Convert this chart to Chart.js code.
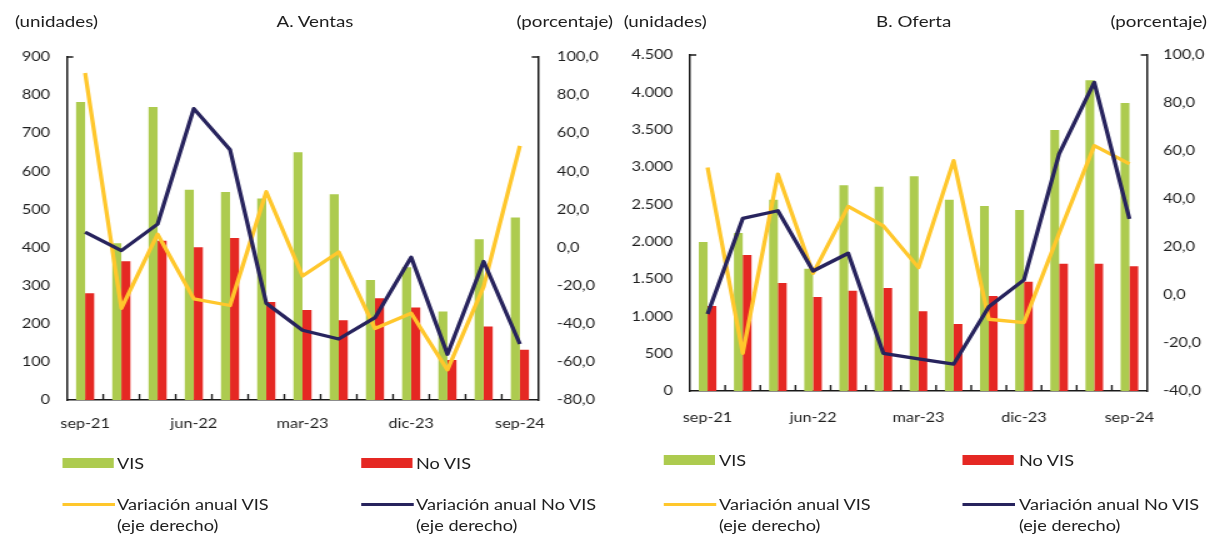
<!DOCTYPE html>
<html>
<head>
<meta charset="utf-8">
<script src="https://cdn.jsdelivr.net/npm/chart.js@4"></script>
<style>
html,body{margin:0;padding:0;background:#fff;overflow:hidden;width:1215px;height:536px;}
#stage{position:absolute;left:0;top:0;width:972px;height:536px;transform:scaleX(1.25);transform-origin:0 0;font-family:Lato,"Open Sans",sans-serif;color:#1e1e1e;}
canvas{position:absolute;top:0;}
.t{position:absolute;font-size:15px;line-height:18px;white-space:nowrap;}
.sw{position:absolute;height:10px;}
.ln{position:absolute;height:3px;}
.lg{position:absolute;font-size:14.5px;line-height:21px;white-space:nowrap;}
</style>
</head>
<body>
<div id="stage">
  <canvas id="cA" width="486" height="440" style="left:0;width:486px;height:440px"></canvas>
  <canvas id="cB" width="486" height="440" style="left:486px;width:486px;height:440px"></canvas>

  <div class="t" style="left:12px;top:12px">(unidades)</div>
  <div class="t" style="left:152px;width:200px;text-align:center;top:12px">A. Ventas</div>
  <div class="t" style="left:390.4px;width:100px;text-align:right;top:12px">(porcentaje)</div>
  <div class="t" style="left:499px;top:12px">(unidades)</div>
  <div class="t" style="left:631px;width:200px;text-align:center;top:12px">B. Oferta</div>
  <div class="t" style="left:865.6px;width:100px;text-align:right;top:12px">(porcentaje)</div>

  <div id="legA"></div>
  <div id="legB"></div>
</div>
<script>
// ---- data ----
const categories = ['sep-21','dic-21','mar-22','jun-22','sep-22','dic-22','mar-23','jun-23','sep-23','dic-23','mar-24','jun-24','sep-24'];

const ventasVIS      = [782, 411, 769, 552, 546, 529, 650, 540, 315, 348, 232, 422, 479];
const ventasNoVIS    = [280, 364, 418, 401, 425, 257, 236, 209, 267, 243, 105, 193, 132];
const ventasVarVIS   = [91.6, -31.9, 7.0, -26.9, -30.4, 29.3, -14.9, -2.3, -42.5, -34.5, -64.2, -20.5, 53.4];
const ventasVarNoVIS = [8.1, -1.6, 12.3, 72.9, 51.3, -29.2, -43.4, -48.0, -36.8, -5.1, -56.0, -7.3, -50.6];

const ofertaVIS      = [1996, 2116, 2562, 1638, 2754, 2737, 2875, 2562, 2478, 2424, 3496, 4161, 3857];
const ofertaNoVIS    = [1138, 1821, 1446, 1259, 1344, 1379, 1067, 897, 1272, 1464, 1705, 1705, 1670];
const ofertaVarVIS   = [53.1, -24.3, 50.4, 9.0, 36.9, 28.8, 11.4, 56.0, -10.1, -11.5, 25.7, 62.2, 54.6];
const ofertaVarNoVIS = [-7.9, 31.9, 35.1, 10.0, 17.4, -24.3, -26.6, -28.8, -4.9, 6.3, 58.8, 88.6, 31.7];

const shownLabels = ['sep-21','jun-22','mar-23','dic-23','sep-24'];
const legendLabels = ['VIS','No VIS','Variación anual VIS','Variación anual No VIS'];

// ---- style ----
const GREEN = '#adcb4f', RED = '#e52823', YELLOW = '#ffc72c', NAVY = '#27235d', AXIS = '#1a1a1a', TXT = '#1e1e1e';
const tickFont = {family:'Lato', size:13};

const fmtPct = v => v.toFixed(1).replace('.', ',');
const fmtThousands = v => String(v).replace(/\B(?=(\d{3})+(?!\d))/g, '.');

const innerTicks = {
  id: 'innerTicks',
  afterDraw(chart) {
    const {ctx} = chart;
    const x = chart.scales.x, yL = chart.scales.yL, yR = chart.scales.yR;
    const w = x.getPixelForValue(1) - x.getPixelForValue(0);
    ctx.save();
    ctx.strokeStyle = AXIS;
    ctx.lineWidth = 1.4;
    ctx.beginPath();
    for (let i = 1; i < categories.length; i++) {
      const px = x.getPixelForValue(i) - w / 2;
      ctx.moveTo(px, x.top);
      ctx.lineTo(px, x.top - 6);
    }
    ctx.moveTo(yL.right, yL.top); ctx.lineTo(yL.right + 5, yL.top);
    ctx.moveTo(yR.left, yR.top); ctx.lineTo(yR.left - 5, yR.top);
    ctx.stroke();
    ctx.restore();
  }
};

function makeChart(id, cfg) {
  const border = {display:true, color:AXIS, width:1.5};
  const noGrid = {display:false, drawTicks:false};
  return new Chart(document.getElementById(id), {
    type: 'bar',
    data: {
      labels: categories,
      datasets: [
        {type:'line', label:legendLabels[3], data:cfg.varNoVIS, yAxisID:'yR', borderColor:NAVY, backgroundColor:NAVY, borderWidth:3.3, pointRadius:0, tension:0, fill:false, order:0, borderJoinStyle:'round'},
        {type:'line', label:legendLabels[2], data:cfg.varVIS, yAxisID:'yR', borderColor:YELLOW, backgroundColor:YELLOW, borderWidth:3.3, pointRadius:0, tension:0, fill:false, order:1, borderJoinStyle:'round'},
        {type:'bar', label:legendLabels[0], data:cfg.vis, yAxisID:'yL', backgroundColor:GREEN, categoryPercentage:0.5, barPercentage:1.0, order:2},
        {type:'bar', label:legendLabels[1], data:cfg.novis, yAxisID:'yL', backgroundColor:RED, categoryPercentage:0.5, barPercentage:1.0, order:3}
      ]
    },
    options: {
      responsive: false,
      animation: false,
      events: [],
      layout: {padding: {top: cfg.top, left: 0, right: 0, bottom: 0}},
      plugins: {legend:{display:false}, tooltip:{enabled:false}, title:{display:false}},
      scales: {
        x: {
          offset: true,
          grid: noGrid,
          border: border,
          ticks: {autoSkip:false, maxRotation:0, minRotation:0, padding:cfg.xpad, color:TXT, font:tickFont,
                  callback: (v, i) => shownLabels.includes(categories[i]) ? categories[i] : ''},
          afterFit: s => { s.height = cfg.xh; }
        },
        yL: {
          type:'linear', position:'left', min:0, max:cfg.lmax,
          grid: noGrid, border: border,
          ticks: {stepSize:cfg.lstep, padding:13.6, color:TXT, font:tickFont, callback: v => fmtThousands(v)},
          afterFit: s => { s.width = cfg.lw; }
        },
        yR: {
          type:'linear', position:'right', min:cfg.rmin, max:100,
          grid: noGrid, border: border,
          ticks: {stepSize:20, padding:cfg.rpad, color:TXT, font:tickFont, callback: v => fmtPct(v)},
          afterFit: s => { s.width = cfg.rw; }
        }
      }
    },
    plugins: [innerTicks]
  });
}

makeChart('cA', {vis:ventasVIS, novis:ventasNoVIS, varVIS:ventasVarVIS, varNoVIS:ventasVarNoVIS,
  top:57, xh:40, xpad:16, lw:53.6, rw:55.6, lmax:900, lstep:100, rmin:-80, rpad:15.2});
makeChart('cB', {vis:ofertaVIS, novis:ofertaNoVIS, varVIS:ofertaVarVIS, varNoVIS:ofertaVarNoVIS,
  top:55, xh:49, xpad:19, lw:66, rw:54.4, lmax:4500, lstep:500, rmin:-40, rpad:12.8});

// ---- HTML legends ----
function legend(el, p) {
  const h = [];
  h.push(`<div class="sw" style="left:${p.x1}px;top:${p.r1-5}px;width:41px;background:${GREEN}"></div>`);
  h.push(`<div class="lg" style="left:${p.t1}px;top:${p.r1-10.5}px">${legendLabels[0]}</div>`);
  h.push(`<div class="sw" style="left:${p.x2}px;top:${p.r1-5}px;width:41px;background:${RED}"></div>`);
  h.push(`<div class="lg" style="left:${p.t2}px;top:${p.r1-10.5}px">${legendLabels[1]}</div>`);
  h.push(`<div class="ln" style="left:${p.x1}px;top:${p.r2-1.5}px;width:42px;background:${YELLOW}"></div>`);
  h.push(`<div class="lg" style="left:${p.t1}px;top:${p.r2-10.5}px">${legendLabels[2]}<br>(eje derecho)</div>`);
  h.push(`<div class="ln" style="left:${p.x2}px;top:${p.r2-1.5}px;width:42px;background:${NAVY}"></div>`);
  h.push(`<div class="lg" style="left:${p.t2}px;top:${p.r2-10.5}px">${legendLabels[3]}<br>(eje derecho)</div>`);
  document.getElementById(el).innerHTML = h.join('');
}
legend('legA', {x1:50.4, t1:93.6, x2:288.8, t2:332.8, r1:463, r2:504});
legend('legB', {x1:531.2, t1:575.2, x2:770.4, t2:815.2, r1:460, r2:504});
</script>
</body>
</html>
